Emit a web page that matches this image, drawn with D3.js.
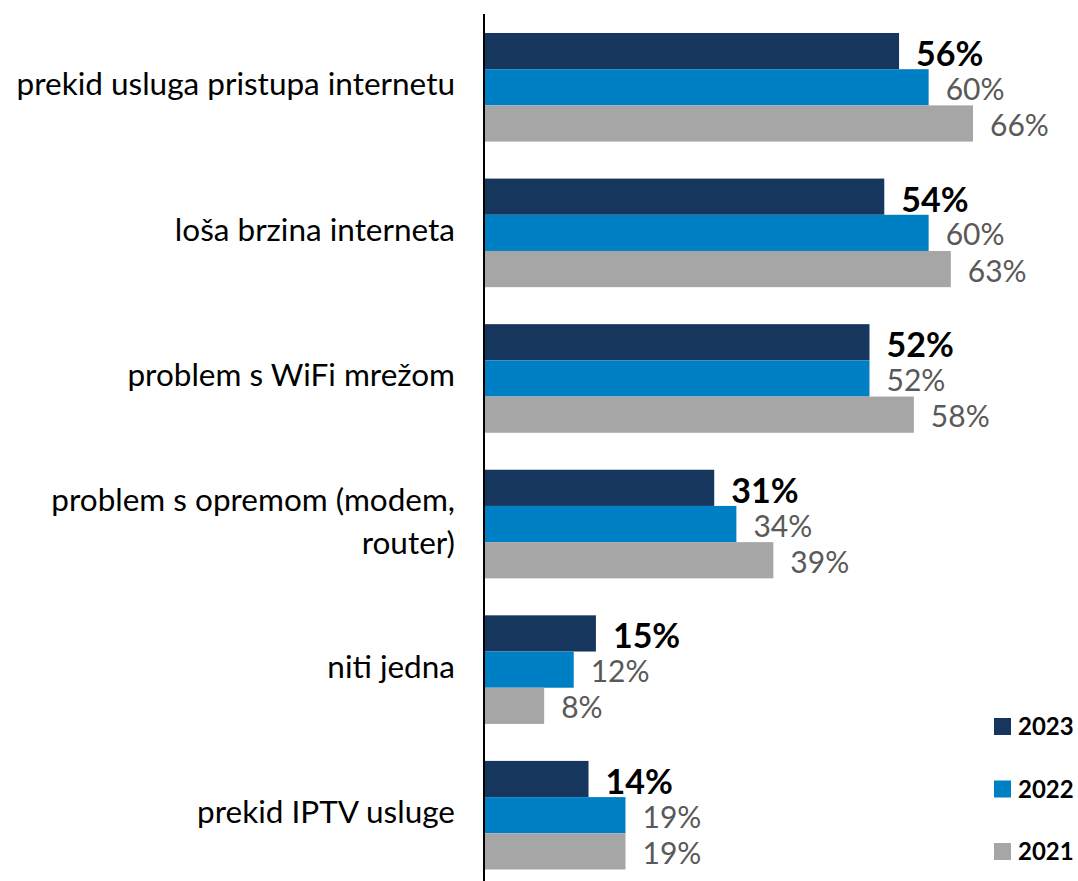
<!DOCTYPE html>
<html>
<head>
<meta charset="utf-8">
<script src="https://cdn.jsdelivr.net/npm/d3@7"></script>
<style>
  body { margin: 0; background: #fff; }
  svg { display: block; font-family: Lato, "Open Sans", sans-serif; }
</style>
</head>
<body>
<svg id="chart" width="1078" height="881"></svg>
<script>
// survey answers, share of respondents in %
var categories = [
  ["prekid usluga pristupa internetu"],
  ["loša brzina interneta"],
  ["problem s WiFi mrežom"],
  ["problem s opremom (modem,", "router)"],
  ["niti jedna"],
  ["prekid IPTV usluge"]
];
var years = ["2023", "2022", "2021"];
var v2023 = [56, 54, 52, 31, 15, 14];
var v2022 = [60, 60, 52, 34, 12, 19];
var v2021 = [66, 63, 58, 39, 8, 19];

var colors = { "2023": "#17365d", "2022": "#0080c4", "2021": "#a6a6a6" };

var svg = d3.select("#chart");
var x0 = 485;

var x = d3.scaleLinear().domain([0, 66]).range([x0, 973]);
var y = d3.scaleBand()
  .domain(d3.range(categories.length))
  .range([14.5, 888])
  .paddingInner(0.254)
  .paddingOuter(0.127);
var ySub = d3.scaleBand().domain(years).range([0, y.bandwidth()]);

var series = { "2023": v2023, "2022": v2022, "2021": v2021 };

var groups = svg.selectAll("g.grp")
  .data(categories)
  .enter().append("g")
    .attr("class", "grp")
    .attr("transform", function(d, i) { return "translate(0," + y(i) + ")"; });

years.forEach(function(yr) {
  groups.append("rect")
    .attr("x", x0)
    .attr("y", ySub(yr))
    .attr("height", ySub.bandwidth())
    .attr("width", function(d, i) { return x(series[yr][i]) - x0; })
    .attr("fill", colors[yr]);
});

// value labels drawn after bars so they sit on top
years.forEach(function(yr) {
  var bold = yr === "2023";
  groups.append("text")
    .attr("x", function(d, i) { return x(series[yr][i]) + 17; })
    .attr("y", ySub(yr) + ySub.bandwidth() / 2 + (bold ? 15 : 12.5))
    .attr("font-size", bold ? 34 : 30)
    .attr("font-weight", bold ? "bold" : "normal")
    .attr("fill", bold ? "#000" : "#595959")
    .text(function(d, i) { return series[yr][i] + "%"; });
});

// category labels
groups.append("text")
  .attr("text-anchor", "end")
  .attr("font-size", 31.5)
  .attr("fill", "#000")
  .each(function(d) {
    var t = d3.select(this);
    var lh = 43;
    var start = y.bandwidth() / 2 - (d.length - 1) * lh / 2 + 8;
    d.forEach(function(line, k) {
      t.append("tspan").attr("x", 455).attr("y", start + k * lh).text(line);
    });
  });

// axis line
svg.append("line")
  .attr("x1", 484).attr("x2", 484)
  .attr("y1", 14).attr("y2", 881)
  .attr("stroke", "#000").attr("stroke-width", 2);

// legend
var legend = svg.selectAll("g.leg")
  .data(years)
  .enter().append("g")
    .attr("class", "leg")
    .attr("transform", function(d, i) { return "translate(994," + (718 + i * 62.5) + ")"; });
legend.append("rect")
  .attr("width", 17).attr("height", 17)
  .attr("fill", function(d) { return colors[d]; });
legend.append("text")
  .attr("x", 24).attr("y", 17)
  .attr("font-size", 24).attr("font-weight", "bold")
  .text(function(d) { return d; });
</script>
</body>
</html>
